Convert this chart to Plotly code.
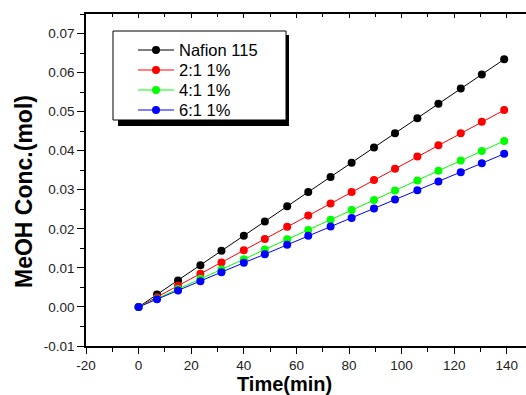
import plotly.graph_objects as go

# ---- data ----
time_min = [0, 7, 15, 23.5, 31.5, 40, 48, 56.5, 64.5, 73, 81, 89.5, 97.5, 106, 114, 122.5, 130.5, 139]
nafion_115 = [0, 0.0032, 0.0068, 0.0107, 0.0144, 0.0182, 0.0219, 0.0258, 0.0294, 0.0333, 0.0369,
              0.0408, 0.0445, 0.0483, 0.0520, 0.0559, 0.0595, 0.0634]
r2_1 = [0, 0.0025, 0.0054, 0.0085, 0.0114, 0.0145, 0.0174, 0.0205, 0.0234, 0.0265, 0.0294,
        0.0325, 0.0354, 0.0385, 0.0414, 0.0445, 0.0474, 0.0504]
r4_1 = [0, 0.0021, 0.0046, 0.0072, 0.0096, 0.0122, 0.0147, 0.0173, 0.0197, 0.0223, 0.0248,
        0.0274, 0.0298, 0.0324, 0.0349, 0.0375, 0.0399, 0.0425]
r6_1 = [0, 0.0020, 0.0042, 0.0066, 0.0089, 0.0113, 0.0135, 0.0159, 0.0182, 0.0206, 0.0228,
        0.0252, 0.0275, 0.0299, 0.0321, 0.0345, 0.0368, 0.0392]

series_names = ["Nafion 115", "2:1 1%", "4:1 1%", "6:1 1%"]
series_colors = ["#000000", "#ff0000", "#00ff00", "#0000ff"]

x_tickvals = [-20, 0, 20, 40, 60, 80, 100, 120, 140]
x_ticktext = ["-20", "0", "20", "40", "60", "80", "100", "120", "140"]
y_tickvals = [-0.01, 0.0, 0.01, 0.02, 0.03, 0.04, 0.05, 0.06, 0.07]
y_ticktext = ["-0.01", "0.00", "0.01", "0.02", "0.03", "0.04", "0.05", "0.06", "0.07"]

W, H = 526, 395
ML, MR, MT, MB = 86, 0, 14, 49
PW, PH = W - ML - MR, H - MT - MB


def px_x(px):
    return (px - ML) / PW


def px_y(py):
    return (H - MB - py) / PH


font_family = "Liberation Sans, Arial, sans-serif"
LEG_FS = 16.5
legend_ids = ["legend", "legend2", "legend3", "legend4"]
legend_row_centers = [50, 70, 90, 110]  # pixel rows of the legend entries
item_h = LEG_FS * 1.3 + 3

fig = go.Figure()
for name, ys, col, lid in zip(series_names, [nafion_115, r2_1, r4_1, r6_1], series_colors, legend_ids):
    fig.add_trace(go.Scatter(
        x=time_min, y=ys, name=name, mode="lines+markers",
        line=dict(color=col, width=1),
        marker=dict(color=col, size=8, symbol="circle"),
        legend=lid,
    ))

# invisible trace to carry the top axis (inside ticks)
fig.add_trace(go.Scatter(x=[None], y=[None], xaxis="x2", showlegend=False, hoverinfo="skip"))

legends = {}
for lid, rc in zip(legend_ids, legend_row_centers):
    legends[lid] = dict(
        x=px_x(133), y=px_y(rc - item_h / 2 - 5), xanchor="left", yanchor="top",
        bgcolor="rgba(0,0,0,0)", borderwidth=0, itemwidth=36,
        font=dict(size=LEG_FS, family=font_family, color="#000000"),
    )

xr = [-20, 147.3]
fig.update_layout(
    width=W, height=H,
    margin=dict(l=ML, r=MR, t=MT, b=MB),
    paper_bgcolor="white", plot_bgcolor="white",
    font=dict(family=font_family, color="#000000"),
    showlegend=True,
    xaxis=dict(
        range=xr, tickvals=x_tickvals, ticktext=x_ticktext,
        showgrid=False, zeroline=False, showline=True, linecolor="#000000", linewidth=1.5,
        ticks="outside", ticklen=6, tickwidth=1.2, tickcolor="#000000",
        tickfont=dict(size=13.5, color="#222222"),
        minor=dict(dtick=10, tick0=0, ticks="outside", ticklen=4, tickwidth=1, tickcolor="#000000"),
    ),
    xaxis2=dict(
        overlaying="x", side="top", range=xr, tickvals=x_tickvals, showticklabels=False,
        showgrid=False, zeroline=False, showline=True, linecolor="#000000", linewidth=1.5,
        ticks="inside", ticklen=4, tickwidth=1, tickcolor="#000000",
        minor=dict(dtick=10, tick0=0, ticks="inside", ticklen=3, tickwidth=1, tickcolor="#000000"),
    ),
    yaxis=dict(
        range=[-0.01, 0.075], tickvals=y_tickvals, ticktext=y_ticktext,
        showgrid=False, zeroline=False, showline=True, linecolor="#000000", linewidth=1.5,
        ticks="outside", ticklen=7, tickwidth=1.2, tickcolor="#000000",
        tickfont=dict(size=13.5, color="#222222"),
        minor=dict(dtick=0.005, tick0=0, ticks="outside", ticklen=4, tickwidth=1, tickcolor="#000000"),
    ),
    annotations=[
        dict(text="<b>Time(min)</b>", xref="paper", yref="paper",
             x=px_x(284), y=px_y(384), xanchor="center", yanchor="middle",
             showarrow=False, font=dict(size=20, family=font_family, color="#000000")),
        dict(text="<b>MeOH Conc.(mol)</b>", xref="paper", yref="paper",
             x=px_x(24), y=px_y(192), xanchor="center", yanchor="middle", textangle=-90,
             showarrow=False, font=dict(size=23, family=font_family, color="#000000")),
    ],
    shapes=[
        # legend drop shadow
        dict(type="rect", xref="paper", yref="paper", layer="above",
             x0=px_x(118), x1=px_x(289), y0=px_y(126), y1=px_y(35),
             fillcolor="#000000", line=dict(width=0)),
        # legend box
        dict(type="rect", xref="paper", yref="paper", layer="above",
             x0=px_x(113), x1=px_x(286), y0=px_y(120), y1=px_y(31),
             fillcolor="#ffffff", line=dict(color="#000000", width=1)),
    ],
    **legends,
)

fig.write_html("out.html", config={"displayModeBar": False},
               post_script="document.body.style.margin='0px';")
